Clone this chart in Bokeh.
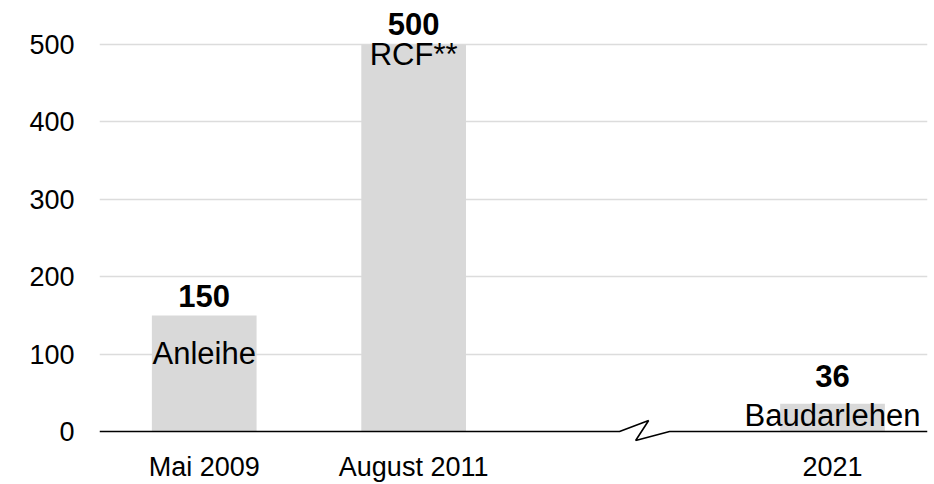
from bokeh.plotting import figure
from bokeh.models import Range1d, FixedTicker, ColumnDataSource
from bokeh.core.properties import value
from bokeh.embed import file_html
from bokeh.resources import INLINE

# ---- data ----
categories = ["Mai 2009", "August 2011", "2021"]
amounts = [150, 500, 36]
instruments = ["Anleihe", "RCF**", "Baudarlehen"]
y_ticks = [0, 100, 200, 300, 400, 500]

# ---- layout (slot positions; slot 2 is an empty gap with an axis break) ----
slots = [0, 1, 3]
value_label_offset = [-19, -20, -28]   # px shift of value labels
inner_label_offset = [38, 10, 12]      # px shift of instrument labels

FONT = "Liberation Sans"
BAR = "#d9d9d9"

x_end = 3.4535
p = figure(width=934, height=484,
           x_range=Range1d(-0.5, x_end), y_range=Range1d(-12.9, 556.7),
           output_backend="svg", toolbar_location=None,
           min_border_left=99, min_border_right=7,
           min_border_top=0, min_border_bottom=42)
p.outline_line_color = None
p.background_fill_color = "white"
p.border_fill_color = "white"

p.xgrid.grid_line_color = None
p.ygrid.ticker = FixedTicker(ticks=y_ticks[1:])
p.ygrid.grid_line_color = "#dcdcdc"
p.ygrid.grid_line_width = 1.5

# y axis
p.yaxis.ticker = FixedTicker(ticks=y_ticks)
p.yaxis.axis_line_color = None
p.yaxis.major_tick_line_color = None
p.yaxis.minor_tick_line_color = None
p.yaxis.major_tick_out = 0
p.yaxis.major_label_standoff = 25
p.yaxis.major_label_text_font = FONT
p.yaxis.major_label_text_font_size = "27px"
p.yaxis.major_label_text_color = "black"

# x axis
p.xaxis.ticker = FixedTicker(ticks=slots)
p.xaxis.major_label_overrides = {s: c for s, c in zip(slots, categories)}
p.xaxis.axis_line_color = None
p.xaxis.major_tick_line_color = None
p.xaxis.minor_tick_line_color = None
p.xaxis.major_tick_out = 0
p.xaxis.major_label_standoff = 10
p.xaxis.major_label_text_font = FONT
p.xaxis.major_label_text_font_size = "27px"
p.xaxis.major_label_text_color = "black"

src = ColumnDataSource(dict(x=slots, top=amounts, inst=instruments,
                            lab=[str(a) for a in amounts],
                            voff=value_label_offset, ioff=inner_label_offset))

p.vbar(x="x", top="top", bottom=0, width=0.5, source=src,
       fill_color=BAR, line_color=None)

# baseline with axis break
p.line(x=[-0.5, 1.983, 2.122, 2.060, 2.222, x_end],
       y=[0, 0, 14.2, -11.6, 0, 0], line_color="black", line_width=1.6)

p.text(x="x", y="top", text="lab", source=src, y_offset="voff",
       text_font=value(FONT), text_font_style="bold", text_font_size="31px",
       text_align="center", text_baseline="alphabetic", text_color="black")
p.text(x="x", y="top", text="inst", source=src, y_offset="ioff",
       text_font=value(FONT), text_font_size="31px",
       text_align="center", text_baseline="alphabetic", text_color="black")

open("out.html", "w").write(file_html(p, INLINE))
